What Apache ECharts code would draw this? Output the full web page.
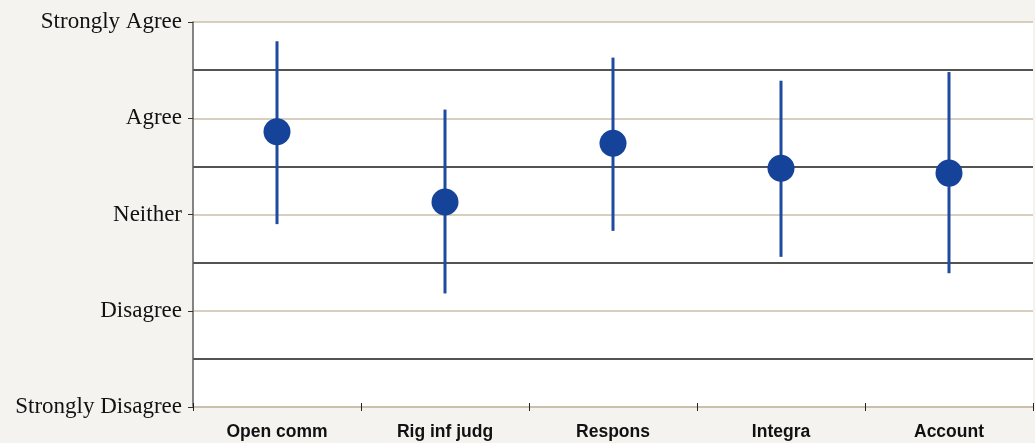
<!DOCTYPE html>
<html>
<head>
<meta charset="utf-8">
<script src="https://cdn.jsdelivr.net/npm/echarts@6/dist/echarts.min.js"></script>
<style>
html,body{margin:0;padding:0;background:#f4f3f0;}
#c{width:1035px;height:443px;}
</style>
</head>
<body>
<div id="c"></div>
<script>
var categories = ['Open comm', 'Rig inf judg', 'Respons', 'Integra', 'Account'];
var means = [3.86, 3.13, 3.74, 3.48, 3.43];
var lows = [2.90, 2.18, 2.83, 2.56, 2.39];
var highs = [4.80, 4.09, 4.63, 4.39, 4.48];
var levelLabels = ['Strongly Disagree', 'Disagree', 'Neither', 'Agree', 'Strongly Agree'];

var barData = categories.map(function (c, i) { return [i, lows[i], highs[i]]; });
var meanData = categories.map(function (c, i) { return [i, means[i]]; });

var chart = echarts.init(document.getElementById('c'), null, {renderer: 'canvas'});
chart.setOption({
  backgroundColor: '#f4f3f0',
  animation: false,
  grid: {left: 193, right: 2, top: 22, bottom: 36, show: true, backgroundColor: '#ffffff', borderWidth: 0, containLabel: false},
  xAxis: [{
    type: 'category',
    data: categories,
    boundaryGap: true,
    axisLine: {show: true, lineStyle: {color: '#c9bca5', width: 1.5}},
    axisTick: {show: true, length: 4, lineStyle: {color: '#222', width: 1}},
    axisLabel: {margin: 16, fontFamily: 'Liberation Sans, Arial, sans-serif', fontWeight: 'bold', fontSize: 17.5, color: '#111'},
    splitLine: {show: false}
  }, {
    type: 'category',
    data: categories,
    position: 'bottom',
    boundaryGap: true,
    axisLine: {show: false},
    axisTick: {show: true, inside: true, length: 4, lineStyle: {color: '#222', width: 1}},
    axisLabel: {show: false},
    splitLine: {show: false}
  }],
  yAxis: [{
    type: 'value',
    min: 1, max: 5, interval: 1,
    axisLine: {show: true, lineStyle: {color: '#5e5e5e', width: 1.5}},
    axisTick: {show: true, length: 5, lineStyle: {color: '#333', width: 1}},
    axisLabel: {
      margin: 11,
      fontFamily: 'Liberation Serif, Times New Roman, serif',
      fontSize: 23,
      color: '#111',
      formatter: function (v) { return levelLabels[Math.round(v) - 1] || ''; }
    },
    splitLine: {show: true, lineStyle: {color: '#cbbfa8', width: 1.5}}
  }, {
    type: 'value',
    min: 1, max: 5, interval: 0.5,
    position: 'left',
    axisLine: {show: false},
    axisTick: {show: false},
    axisLabel: {show: false},
    splitLine: {show: true, lineStyle: {color: ['rgba(0,0,0,0)', '#1a1a1a'], width: 1.5}}
  }],
  series: [{
    type: 'custom',
    xAxisIndex: 0,
    yAxisIndex: 0,
    data: barData,
    z: 3,
    renderItem: function (params, api) {
      var p1 = api.coord([api.value(0), api.value(1)]);
      var p2 = api.coord([api.value(0), api.value(2)]);
      return {
        type: 'line',
        shape: {x1: p1[0], y1: p1[1], x2: p2[0], y2: p2[1]},
        style: {stroke: '#1d4b9e', lineWidth: 3}
      };
    }
  }, {
    type: 'scatter',
    xAxisIndex: 0,
    yAxisIndex: 0,
    data: meanData,
    symbol: 'circle',
    symbolSize: 27,
    z: 4,
    itemStyle: {color: '#15439a', opacity: 1}
  }]
});
</script>
</body>
</html>
